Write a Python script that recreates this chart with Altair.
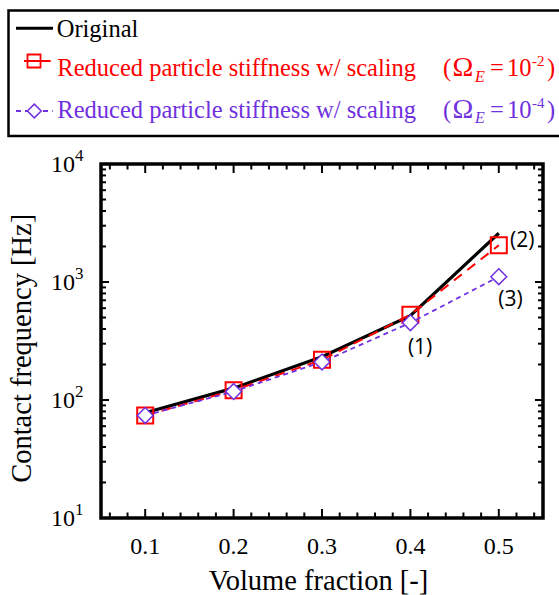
import altair as alt
import pandas as pd

# ---------------- data ----------------
vol = [0.1, 0.2, 0.3, 0.4, 0.5]
f_orig = [78, 126, 233, 518, 2590]
f_red = [74, 121, 219, 528, 2047]
f_purple = [74, 118, 210, 452, 1109]

ann_text = ["(1)", "(2)", "(3)"]
ann_x = [0.411, 0.5265, 0.5132]
ann_y = [274, 2234, 703]

x_major = [0.1, 0.2, 0.3, 0.4, 0.5]
x_labels = ["0.1", "0.2", "0.3", "0.4", "0.5"]
x_minor = [0.06, 0.08, 0.12, 0.14, 0.16, 0.18, 0.22, 0.24, 0.26, 0.28,
           0.32, 0.34, 0.36, 0.38, 0.42, 0.44, 0.46, 0.48, 0.52, 0.54]
y_major = [10, 100, 1000, 10000]
y_exp = ["1", "2", "3", "4"]
y_minor = [d * m for d in (10, 100, 1000) for m in range(2, 10)]

SERIF = "Liberation Serif"
SANS = "Open Sans"
RED = "#ff0000"
PURPLE = "#7030e0"
W, H = 442, 354

xs = alt.Scale(domain=[0.05, 0.55], nice=False, zero=False)
ys = alt.Scale(type="log", domain=[10, 10000], nice=False)

df = pd.DataFrame({"vol": vol, "orig": f_orig, "red": f_red, "pur": f_purple})
ann = pd.DataFrame({"t": ann_text, "x": ann_x, "y": ann_y})
xmaj = pd.DataFrame({"x": x_major, "lab": x_labels})
xmin = pd.DataFrame({"x": x_minor})
ymaj = pd.DataFrame({"y": y_major, "e": y_exp})
ymin = pd.DataFrame({"y": y_minor})
one = pd.DataFrame({"k": [0]})

X = lambda f: alt.X(f, scale=xs, axis=None)
Y = lambda f: alt.Y(f, scale=ys, axis=None)

layers = []

# black solid line
layers.append(alt.Chart(df).mark_line(color="black", strokeWidth=3.2).encode(
    x=X("vol:Q"), y=Y("orig:Q")))
# red dashed + squares
layers.append(alt.Chart(df).mark_line(color=RED, strokeWidth=2, strokeDash=[10, 7]).encode(
    x=X("vol:Q"), y=Y("red:Q")))
layers.append(alt.Chart(df).mark_point(shape="square", size=256, filled=False, color=RED,
                                        strokeWidth=2, opacity=1).encode(
    x=X("vol:Q"), y=Y("red:Q")))
# purple dotted + diamonds
layers.append(alt.Chart(df).mark_line(color=PURPLE, strokeWidth=1.8, strokeDash=[5, 4]).encode(
    x=X("vol:Q"), y=Y("pur:Q")))
layers.append(alt.Chart(df).mark_point(shape="diamond", size=250, filled=True, fill="white",
                                        stroke=PURPLE, strokeWidth=1.5, opacity=1).encode(
    x=X("vol:Q"), y=Y("pur:Q")))

# annotations
layers.append(alt.Chart(ann).mark_text(font=SANS, fontSize=21, color="black", align="center",
                                        baseline="middle").encode(
    x=X("x:Q"), y=Y("y:Q"), text="t:N"))

# frame
layers.append(alt.Chart(one).mark_rect(filled=False, stroke="black", strokeWidth=3.5).encode(
    x=alt.value(0), x2=alt.value(W), y=alt.value(0), y2=alt.value(H)))

# inward ticks on all four sides
def xticks(data, length):
    return [
        alt.Chart(data).mark_rule(color="black", strokeWidth=2).encode(
            x=X("x:Q"), y=alt.value(H), y2=alt.value(H - length)),
        alt.Chart(data).mark_rule(color="black", strokeWidth=2).encode(
            x=X("x:Q"), y=alt.value(0), y2=alt.value(length)),
    ]

def yticks(data, length):
    return [
        alt.Chart(data).mark_rule(color="black", strokeWidth=2).encode(
            y=Y("y:Q"), x=alt.value(0), x2=alt.value(length)),
        alt.Chart(data).mark_rule(color="black", strokeWidth=2).encode(
            y=Y("y:Q"), x=alt.value(W), x2=alt.value(W - length)),
    ]

layers += xticks(xmaj, 9) + xticks(xmin, 5.5) + yticks(ymaj, 8) + yticks(ymin, 5)

# x tick labels
layers.append(alt.Chart(xmaj).mark_text(font=SERIF, fontSize=24, color="black",
                                         align="center", baseline="alphabetic").encode(
    x=X("x:Q"), y=alt.value(H + 36), text="lab:N"))

# y tick labels 10^n
layers.append(alt.Chart(ymaj).mark_text(text="10", font=SERIF, fontSize=24, color="black",
                                         align="right", baseline="middle", dy=1).encode(
    x=alt.value(-26), y=Y("y:Q")))
layers.append(alt.Chart(ymaj).mark_text(font=SERIF, fontSize=17, color="black",
                                         align="left", baseline="middle", dy=-8).encode(
    x=alt.value(-26), y=Y("y:Q"), text="e:N"))


def T(s, x, y, size, color="black", font=SERIF, style="normal", align="left",
      baseline="alphabetic", angle=0):
    return alt.Chart(one).mark_text(text=s, font=font, fontSize=size, color=color,
                                    fontStyle=style, align=align, baseline=baseline,
                                    angle=angle).encode(x=alt.value(x), y=alt.value(y))

# axis titles
layers.append(T("Volume fraction [-]", 217.5, 425.5, 28.5, align="center"))
layers.append(T("Contact frequency [Hz]", -70.5, 184.3, 28.5, align="center", angle=270))

# legend box
layers.append(alt.Chart(one).mark_rect(filled=False, stroke="black", strokeWidth=2.5).encode(
    x=alt.value(-92.5), x2=alt.value(480), y=alt.value(-153.5), y2=alt.value(-28)))

# legend symbols
layers.append(alt.Chart(one).mark_rule(color="black", strokeWidth=3).encode(
    x=alt.value(-85), x2=alt.value(-48), y=alt.value(-135.7)))
layers.append(alt.Chart(one).mark_rule(color=RED, strokeWidth=2).encode(
    x=alt.value(-77), x2=alt.value(-50.3), y=alt.value(-103)))
layers.append(alt.Chart(one).mark_point(shape="square", size=169, filled=False, color=RED,
                                         strokeWidth=1.8, opacity=1).encode(
    x=alt.value(-67), y=alt.value(-103)))
layers.append(alt.Chart(one).mark_rule(color=PURPLE, strokeWidth=1.8, strokeDash=[5, 4]).encode(
    x=alt.value(-85), x2=alt.value(-48.3), y=alt.value(-53)))
layers.append(alt.Chart(one).mark_point(shape="diamond", size=190, filled=True, fill="white",
                                         stroke=PURPLE, strokeWidth=1.5, opacity=1).encode(
    x=alt.value(-66.7), y=alt.value(-53)))

# legend texts
layers.append(T("Original", -44.3, -127.3, 24.5))
for ybl, col, sup in [(-87.7, RED, "-2"), (-46.2, PURPLE, "-4")]:
    layers.append(T("Reduced particle stiffness w/ scaling", -43.7, ybl, 24.5, col))
    layers.append(T("(", 342, ybl, 24.5, col))
    layers.append(T("\u03a9", 351.5, ybl, 28, col))
    layers.append(T("E", 374, ybl + 5.5, 16, col, style="italic"))
    layers.append(T("=", 389, ybl, 24.5, col))
    layers.append(T("10", 406, ybl, 24.5, col))
    layers.append(T(sup, 431, ybl - 10, 15, col))
    layers.append(T(")", 446, ybl, 24.5, col))

chart = alt.layer(*layers).properties(
    width=W, height=H,
    padding={"left": 101, "top": 164, "right": 16, "bottom": 77},
    autosize=alt.AutoSizeParams(type="none"),
).configure_view(stroke=None).configure(background="white")

chart.save("out.html", embed_options={"renderer": "svg", "actions": False})
